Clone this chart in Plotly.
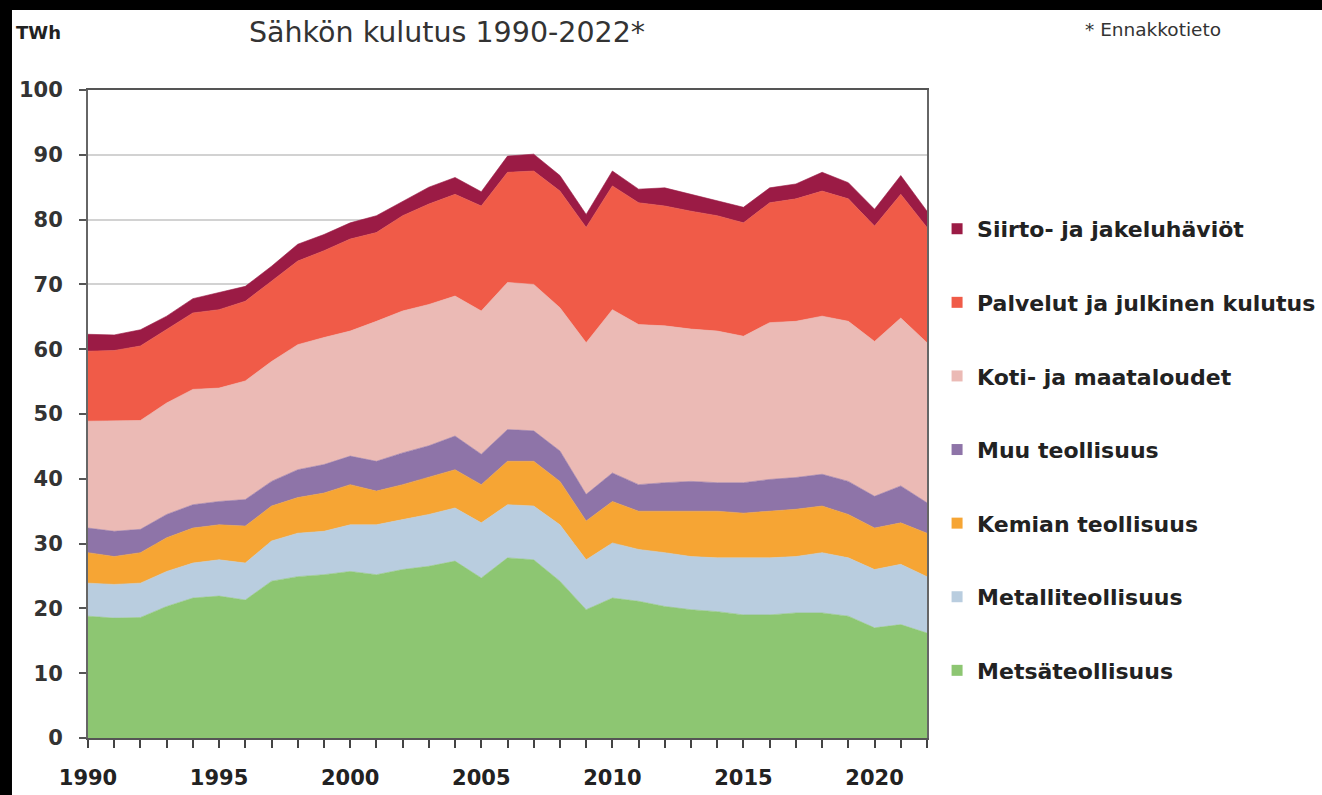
import plotly.graph_objects as go

# Electricity consumption in Finland by sector, TWh
years = list(range(1990, 2023))

metsateollisuus = [18.8, 18.5, 18.6, 20.3, 21.6, 21.9, 21.3, 24.2, 24.9, 25.2, 25.7,
                   25.2, 26.0, 26.5, 27.3, 24.7, 27.8, 27.5, 24.2, 19.8, 21.6, 21.1,
                   20.3, 19.8, 19.5, 19.0, 19.0, 19.3, 19.3, 18.8, 17.0, 17.5, 16.2]
metalliteollisuus = [5.1, 5.2, 5.3, 5.4, 5.4, 5.6, 5.7, 6.2, 6.7, 6.7, 7.2,
                     7.7, 7.7, 8.0, 8.2, 8.5, 8.2, 8.3, 8.7, 7.7, 8.5, 8.0,
                     8.3, 8.2, 8.3, 8.8, 8.8, 8.7, 9.3, 9.0, 9.0, 9.3, 8.7]
kemian_teollisuus = [4.7, 4.3, 4.7, 5.2, 5.4, 5.4, 5.7, 5.4, 5.5, 5.9, 6.2,
                     5.2, 5.4, 5.7, 5.9, 5.9, 6.7, 6.9, 6.7, 6.0, 6.4, 5.9,
                     6.4, 7.0, 7.2, 6.9, 7.2, 7.3, 7.2, 6.7, 6.4, 6.4, 6.7]
muu_teollisuus = [3.8, 3.9, 3.6, 3.6, 3.6, 3.6, 4.1, 3.8, 4.3, 4.4, 4.4,
                  4.6, 4.9, 4.9, 5.2, 4.7, 4.9, 4.7, 4.7, 4.1, 4.4, 4.1,
                  4.4, 4.6, 4.4, 4.7, 4.9, 4.9, 4.9, 5.1, 4.9, 5.7, 4.7]
koti_ja_maatalous = [16.5, 17.0, 16.8, 17.2, 17.8, 17.5, 18.3, 18.5, 19.3, 19.6, 19.3,
                     21.6, 21.9, 21.8, 21.6, 22.1, 22.7, 22.6, 22.1, 23.4, 25.2, 24.7,
                     24.2, 23.5, 23.4, 22.6, 24.2, 24.1, 24.4, 24.7, 23.9, 25.9, 24.7]
palvelut_julkinen = [10.8, 10.9, 11.5, 11.3, 11.8, 12.1, 12.3, 12.4, 12.9, 13.4, 14.2,
                     13.7, 14.7, 15.5, 15.7, 16.2, 17.0, 17.5, 18.0, 17.8, 19.1, 18.8,
                     18.5, 18.2, 17.8, 17.5, 18.5, 18.9, 19.3, 18.9, 17.8, 19.1, 17.8]
siirto_jakeluhaviot = [2.6, 2.4, 2.5, 2.1, 2.2, 2.6, 2.3, 2.3, 2.6, 2.5, 2.5,
                       2.6, 2.2, 2.6, 2.6, 2.2, 2.5, 2.6, 2.4, 2.0, 2.3, 2.1,
                       2.8, 2.6, 2.3, 2.4, 2.3, 2.3, 2.9, 2.5, 2.6, 2.9, 2.5]

series_names = ["Metsäteollisuus", "Metalliteollisuus", "Kemian teollisuus",
                "Muu teollisuus", "Koti- ja maataloudet",
                "Palvelut ja julkinen kulutus", "Siirto- ja jakeluhäviöt"]
series_values = [metsateollisuus, metalliteollisuus, kemian_teollisuus,
                 muu_teollisuus, koti_ja_maatalous, palvelut_julkinen,
                 siirto_jakeluhaviot]
series_colors = ["#8dc672", "#b9cddf", "#f6a534", "#8e74a8",
                 "#ebbab5", "#f05b48", "#9b1b45"]

tick_labels = [str(y) if y % 5 == 0 else "" for y in years]

FONT = "DejaVu Sans"

fig = go.Figure()

# stacked areas, bottom to top
for name, vals, col in zip(series_names, series_values, series_colors):
    fig.add_trace(go.Scatter(
        x=years, y=vals, name=name, stackgroup="kulutus", mode="lines",
        line=dict(width=0.6, color=col), fillcolor=col, showlegend=False,
    ))

# legend entries as small squares, top item first
for rank, (name, col) in enumerate(zip(series_names[::-1], series_colors[::-1])):
    fig.add_trace(go.Scatter(
        x=[None], y=[None], mode="markers", name=name, legendgroup=name,
        legendrank=rank + 1,
        marker=dict(symbol="square", size=11, color=col),
    ))

fig.update_layout(
    width=1322, height=795,
    margin=dict(l=88, r=395, t=90, b=57, autoexpand=False),
    paper_bgcolor="white", plot_bgcolor="white",
    font=dict(family=FONT, color="#222"),
    legend=dict(
        x=1.012, xanchor="left", y=0.818, yanchor="top",
        traceorder="grouped", tracegroupgap=42,
        font=dict(family=FONT, size=22, color="#222", weight=600),
        itemwidth=30, bgcolor="rgba(0,0,0,0)",
    ),
    xaxis=dict(
        range=[1990, 2022], tickmode="array", tickvals=years, ticktext=tick_labels,
        ticks="outside", ticklen=8, tickwidth=2, tickcolor="#444",
        showline=True, linecolor="#555", linewidth=2, mirror=True,
        showgrid=False, zeroline=False,
        tickfont=dict(family=FONT, size=21, color="#222", weight="bold"),
        ticklabelstandoff=12,
    ),
    yaxis=dict(
        range=[0, 100], tickmode="linear", tick0=0, dtick=10,
        ticks="outside", ticklen=7, tickwidth=2, tickcolor="#555",
        showline=True, linecolor="#666", linewidth=2, mirror=True,
        showgrid=True, gridcolor="#d2d2d2", gridwidth=2, zeroline=False,
        tickfont=dict(family=FONT, size=21, color="#333", weight="bold"),
        ticklabelstandoff=12,
    ),
    shapes=[
        dict(type="rect", xref="paper", yref="paper", layer="above",
             x0=-0.11, x1=1.48, y0=1.1235, y1=1.15,
             fillcolor="black", line=dict(width=0)),
        dict(type="rect", xref="paper", yref="paper", layer="above",
             x0=-0.11, x1=-0.0906, y0=-0.1, y1=1.15,
             fillcolor="black", line=dict(width=0)),
    ],
    annotations=[
        dict(text="Sähkön kulutus 1990-2022*", xref="paper", yref="paper",
             x=0.428, y=1.088, xanchor="center", yanchor="middle", showarrow=False,
             font=dict(family=FONT, size=28.5, color="#333")),
        dict(text="TWh", xref="paper", yref="paper",
             x=-0.0882, y=1.088, xanchor="left", yanchor="middle", showarrow=False,
             font=dict(family=FONT, size=18, color="#222", weight="bold")),
        dict(text="* Ennakkotieto", xref="paper", yref="paper",
             x=1.186, y=1.093, xanchor="left", yanchor="middle", showarrow=False,
             font=dict(family=FONT, size=18.5, color="#333")),
    ],
)

fig.write_html("out.html")
